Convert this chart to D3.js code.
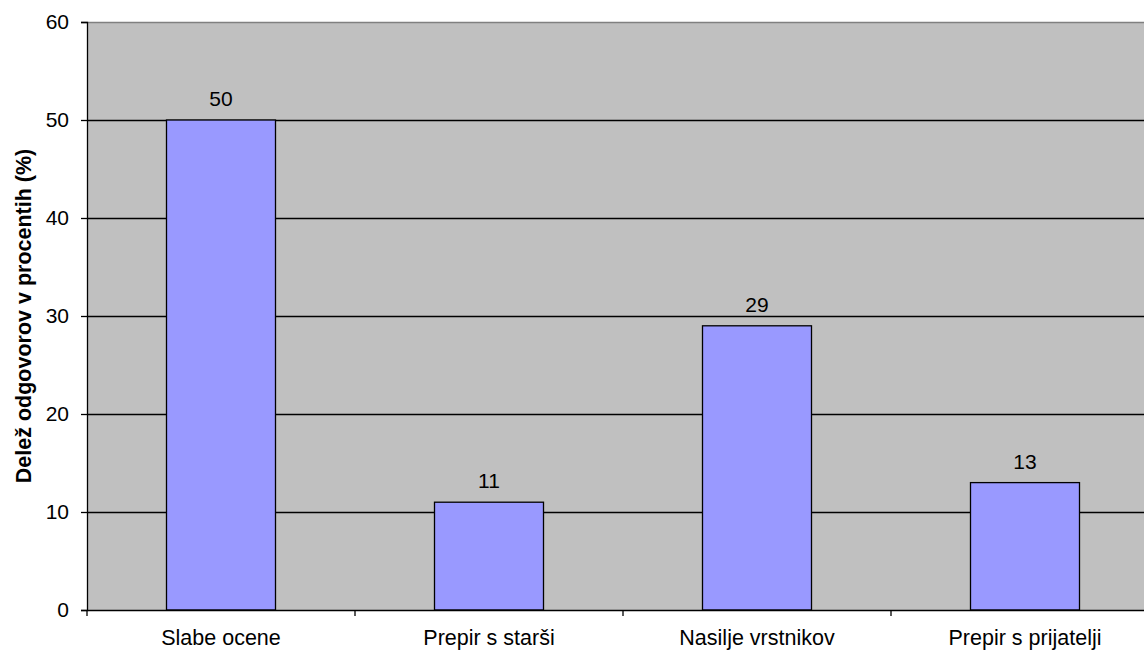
<!DOCTYPE html>
<html>
<head>
<meta charset="utf-8">
<script src="https://cdn.jsdelivr.net/npm/d3@7"></script>
<style>
  html, body { margin: 0; padding: 0; background: #fff; }
  svg { display: block; font-family: "Liberation Sans", Arial, sans-serif; }
</style>
</head>
<body>
<svg id="chart" width="1144" height="651"></svg>
<script>
// Reasons and share of answers (%)
const categories = ["Slabe ocene", "Prepir s starši", "Nasilje vrstnikov", "Prepir s prijatelji"];
const values = [50, 11, 29, 13];
const yTicks = [0, 10, 20, 30, 40, 50, 60];
const yTitle = "Delež odgovorov v procentih (%)";

const FONT = "Liberation Sans, Arial, sans-serif";
const svg = d3.select("#chart");
const margin = { left: 87, top: 22, bottom: 41 };
const bandW = 268;
const plotW = bandW * categories.length;
const plotH = 651 - margin.top - margin.bottom;

const x = d3.scaleBand().domain(categories).range([margin.left, margin.left + plotW]).paddingInner(0).paddingOuter(0);
const y = d3.scaleLinear().domain([0, 60]).range([margin.top + plotH, margin.top]);

// plot background
svg.append("rect")
  .attr("x", margin.left).attr("y", y(60))
  .attr("width", plotW).attr("height", y(0) - y(60))
  .attr("fill", "#C0C0C0");

// top border of plot area
svg.append("line")
  .attr("x1", margin.left).attr("x2", margin.left + plotW)
  .attr("y1", y(60) + 0.5).attr("y2", y(60) + 0.5)
  .attr("stroke", "#808080").attr("stroke-width", 1.5);

// gridlines
svg.append("g").selectAll("line")
  .data(yTicks.filter(t => t > 0 && t < 60))
  .join("line")
  .attr("x1", margin.left).attr("x2", margin.left + plotW)
  .attr("y1", d => Math.round(y(d)) + 0.5).attr("y2", d => Math.round(y(d)) + 0.5)
  .attr("stroke", "#000").attr("stroke-width", 1.3);

// bars
const barW = 109;
svg.append("g").selectAll("rect")
  .data(values)
  .join("rect")
  .attr("x", (d, i) => x(categories[i]) + (bandW - barW) / 2)
  .attr("y", d => y(d))
  .attr("width", barW)
  .attr("height", d => y(0) - y(d))
  .attr("fill", "#9999FF")
  .attr("stroke", "#000")
  .attr("stroke-width", 1.3);

// value labels
svg.append("g").selectAll("text")
  .data(values)
  .join("text")
  .attr("x", (d, i) => x(categories[i]) + bandW / 2)
  .attr("y", d => y(d) - 14)
  .attr("text-anchor", "middle")
  .attr("font-family", FONT)
  .attr("font-size", 21)
  .attr("fill", "#000")
  .text(d => d);

// y axis
const yAxis = d3.axisLeft(y).tickValues(yTicks).tickSize(6).tickPadding(12).tickFormat(d3.format("d"));
const gy = svg.append("g").attr("transform", `translate(${margin.left},0)`).call(yAxis);
gy.select(".domain").attr("stroke", "#000").attr("stroke-width", 1.3);
gy.selectAll(".tick line").attr("stroke", "#000").attr("stroke-width", 1.3);
gy.selectAll(".tick text").attr("font-size", 21).attr("fill", "#000").attr("font-family", FONT);

// x axis
const xAxis = d3.axisBottom(x).tickSize(0).tickPadding(20);
const gx = svg.append("g").attr("transform", `translate(0,${y(0)})`).call(xAxis);
gx.select(".domain").attr("stroke", "#000").attr("stroke-width", 1.3);
gx.selectAll(".tick text").attr("font-size", 21.5).attr("fill", "#000").attr("font-family", FONT);

// category separators below the axis
svg.append("g").selectAll("line")
  .data(d3.range(categories.length + 1))
  .join("line")
  .attr("x1", i => margin.left + i * bandW).attr("x2", i => margin.left + i * bandW)
  .attr("y1", y(0)).attr("y2", y(0) + 6)
  .attr("stroke", "#000").attr("stroke-width", 1.3);

// y axis title
svg.append("text")
  .attr("transform", `translate(31,${(y(0) + y(60)) / 2}) rotate(-90)`)
  .attr("text-anchor", "middle")
  .attr("font-family", FONT)
  .attr("font-size", 21.5)
  .attr("font-weight", "bold")
  .attr("fill", "#000")
  .text(yTitle);
</script>
</body>
</html>
